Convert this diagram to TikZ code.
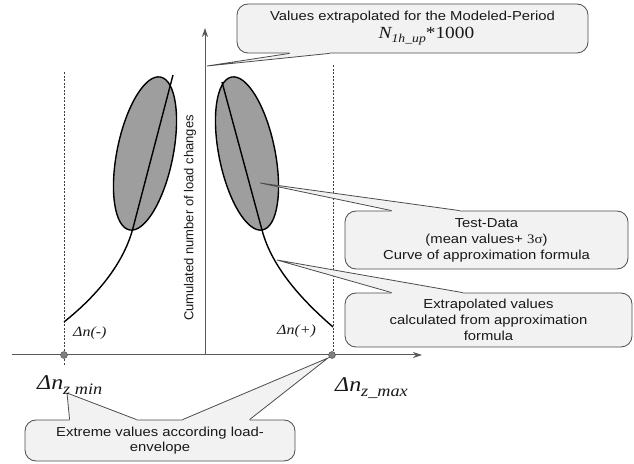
\documentclass[tikz,border=0pt]{standalone}
\usepackage{fontspec}
\setmainfont{Liberation Sans}[FakeStretch=1.14]
\newfontfamily\labelserif{Liberation Serif}[FakeStretch=1.14]
\newfontfamily\axisfont{Liberation Sans}
\usetikzlibrary{arrows.meta,calc}

\begin{document}
\begin{tikzpicture}
[x=1pt,y=1pt,
  axisline/.style={draw=black!65,line width=1pt},
  limitline/.style={draw=black!75,dash pattern=on 2pt off 1.5pt,line width=0.7pt},
  testcloud/.style={draw=black,line width=1.4pt,fill=black!38},
  fitcurve/.style={draw=black,line width=1.4pt},
  extremedot/.style={circle,draw=black!70,fill=black!50,inner sep=0pt,minimum size=7pt},
  callbox/.style={draw=black!70,fill=black!5,rounded corners=11pt,line width=0.8pt,%
    align=center,inner sep=0pt,text=black!90,font=\fontsize{13}{16}\selectfont},
  calledge/.style={draw=black!70,line width=0.8pt},
  deltalabel/.style={anchor=base west,inner sep=0pt,text=black!90}]
\useasboundingbox (0,0) rectangle (634,463);

%% axes and load limits
\draw[axisline,-{Stealth[length=9pt,width=6pt]}] (12,108) -- (422,108);
\draw[axisline,-{Stealth[length=9pt,width=6pt]}] (205,108) -- (205,435);
\node[rotate=90,text=black!90,font=\axisfont\fontsize{13}{15}\selectfont] (ylabel)
  at (190,245) {Cumulated number of load changes};
\draw[limitline] (64,98) -- (64,391);
\draw[limitline] (333,105) -- (333,398);
\node[extremedot] (zmin) at (64,108) {};
\node[extremedot] (zmax) at (332,108) {};

%% test data clouds with the fitted curves
\draw[testcloud,rotate around={78.5:(145,309.5)}] (145,309.5) ellipse [x radius=78,y radius=28];
\draw[testcloud,rotate around={101.5:(247,309.5)}] (247,309.5) ellipse [x radius=78,y radius=28];
\draw[fitcurve] (64,141) .. controls (94,165) and (123,197) .. (133,235) -- (173,388);
\draw[fitcurve] (222,381) -- (262,233) .. controls (272,195) and (303,162) .. (333,136);

%% callout boxes
\node[callbox,minimum width=351,minimum height=49] (modeled) at (412.5,434.5)
  {Values extrapolated for the Modeled-Period\\[2pt]
   \hspace*{28pt}{\labelserif\fontsize{17}{18}\selectfont\itshape N\raisebox{-4pt}{\fontsize{12}{12}\selectfont 1h\_up}\upshape *1000}};
\node[callbox,minimum width=283,minimum height=58] (testdata) at (486.5,223)
  {Test-Data\\(mean values+ {\labelserif 3σ})\\Curve of approximation formula};
\node[callbox,minimum width=287,minimum height=54] (extrap) at (488.5,143)
  {Extrapolated values\\calculated from approximation\\formula};
\node[callbox,minimum width=270,minimum height=41,font=\fontsize{13}{15}\selectfont] (extreme) at (160,22.5)
  {Extreme values according load-\\envelope};

%% pointer tips and bases
\coordinate (axistip) at (207,397);
\coordinate (cloudpt) at (260,280);
\coordinate (curvept) at (277,203);
\coordinate (zminpt) at (67,70);
\coordinate (zmaxpt) at (328,105);
\coordinate (ma) at ($(modeled.south west)+(53,0)$);
\coordinate (mb) at ($(modeled.south west)+(93,0)$);
\coordinate (ta) at ($(testdata.north west)+(47,0)$);
\coordinate (tb) at ($(testdata.north west)+(115,0)$);
\coordinate (ea) at ($(extrap.north west)+(47,0)$);
\coordinate (eb) at ($(extrap.north west)+(118,0)$);
\coordinate (xa) at ($(extreme.north west)+(45,0)$);
\coordinate (xb) at ($(extreme.north west)+(112,0)$);
\coordinate (xc) at ($(extreme.north west)+(158,0)$);
\coordinate (xd) at ($(extreme.north west)+(225,0)$);
\foreach \tip/\basea/\baseb/\inward in {axistip/ma/mb/1.2, cloudpt/ta/tb/-1.2,
  curvept/ea/eb/-1.2, zminpt/xa/xb/-1.2, zmaxpt/xc/xd/-1.2} {
  \fill[black!5] (\basea) -- (\tip) -- (\baseb) -- ($(\baseb)+(0,\inward)$)
    -- ($(\basea)+(0,\inward)$) -- cycle;
  \draw[calledge] (\basea) -- (\tip) -- (\baseb);
}

%% limit labels
\node[deltalabel,font=\labelserif\itshape\fontsize{14}{16}\selectfont] (dneg) at (73,126) {Δn(-)};
\node[deltalabel,font=\labelserif\itshape\fontsize{14}{16}\selectfont] (dpos) at (277,128) {Δn(+)};
\node[deltalabel,font=\labelserif\itshape\fontsize{21}{24}\selectfont] (zminlabel) at (37,73)
  {Δn\raisebox{-5pt}{\fontsize{16}{16}\selectfont z min}};
\node[deltalabel,font=\labelserif\itshape\fontsize{21}{24}\selectfont] (zmaxlabel) at (335,71)
  {Δn\raisebox{-5pt}{\fontsize{16}{16}\selectfont z\_max}};
\end{tikzpicture}
\end{document}
